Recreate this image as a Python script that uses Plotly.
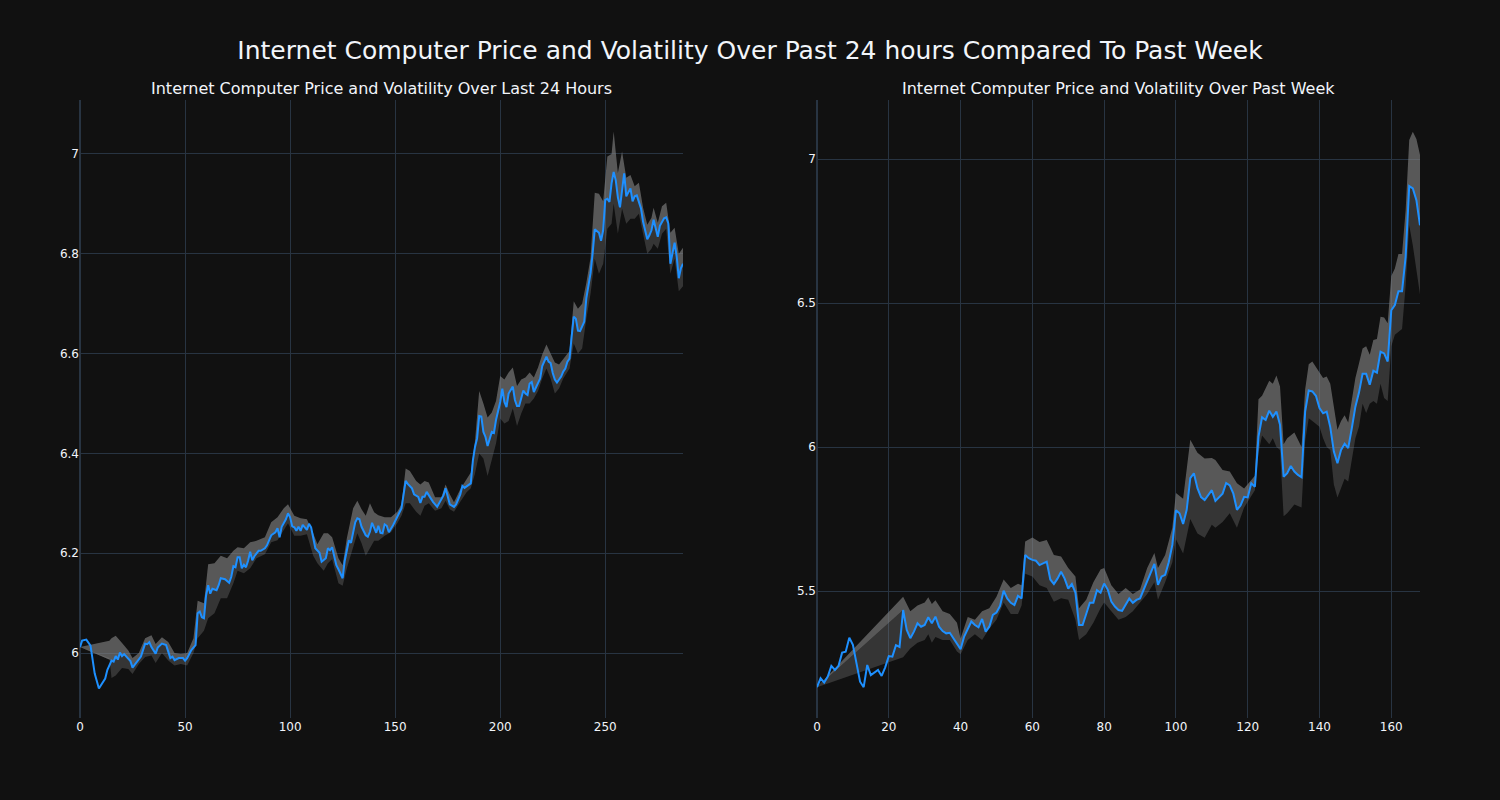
import plotly.graph_objects as go
from plotly.subplots import make_subplots

# ---------------- Last 24 hours (5-minute steps) ----------------
x_24h = [0, 1, 3, 5, 7, 9, 12, 13, 15, 16, 17, 18, 19, 20, 21, 22, 24, 25, 27, 29,
         30, 31, 32, 33, 34, 36, 37, 39, 41, 42, 43, 44, 45, 47, 49, 50, 51, 53, 54, 55,
         56, 57, 58, 59, 60, 61, 62, 63, 65, 66, 67, 69, 71, 72, 73, 74, 75, 76, 77, 78,
         79, 80, 81, 82, 83, 85, 86, 88, 89, 91, 93, 94, 95, 96, 98, 99, 100, 101, 102, 103,
         104, 105, 106, 108, 109, 110, 112, 114, 115, 117, 118, 119, 120, 121, 122, 123, 125, 126, 127, 128,
         129, 130, 131, 132, 133, 134, 136, 137, 138, 139, 140, 141, 142, 143, 144, 145, 146, 147, 149, 151,
         152, 153, 155, 156, 158, 159, 161, 162, 163, 164, 165, 166, 168, 170, 171, 173, 174, 175, 176, 178,
         179, 181, 182, 183, 185, 186, 187, 188, 189, 190, 191, 192, 193, 194, 196, 197, 198, 200, 201, 202,
         203, 204, 206, 207, 208, 209, 211, 212, 213, 214, 215, 216, 217, 219, 220, 222, 223, 224, 225, 226,
         227, 229, 230, 231, 232, 233, 234, 235, 236, 237, 238, 240, 241, 243, 244, 245, 247, 248, 249, 250,
         251, 252, 253, 254, 255, 256, 257, 258, 259, 260, 261, 262, 263, 264, 265, 267, 268, 270, 271, 272,
         273, 274, 275, 276, 278, 279, 280, 281, 282, 283, 284, 285, 286, 287]
price_24h = [6.012, 6.025, 6.027, 6.015, 5.959, 5.929, 5.949, 5.966, 5.985, 5.983, 5.994, 5.987, 6.001, 5.994, 5.998, 5.993, 5.984, 5.971, 5.983, 5.993,
             6.006, 6.019, 6.018, 6.022, 6.012, 5.999, 6.011, 6.019, 6.016, 6.003, 5.990, 5.993, 5.986, 5.990, 5.990, 5.985, 5.990, 6.006, 6.012, 6.016,
             6.080, 6.083, 6.072, 6.070, 6.115, 6.136, 6.119, 6.129, 6.126, 6.136, 6.150, 6.148, 6.141, 6.153, 6.174, 6.172, 6.192, 6.192, 6.170, 6.177,
             6.172, 6.185, 6.203, 6.186, 6.194, 6.205, 6.205, 6.210, 6.216, 6.236, 6.242, 6.250, 6.232, 6.253, 6.268, 6.280, 6.272, 6.254, 6.252, 6.245,
             6.253, 6.245, 6.257, 6.247, 6.259, 6.252, 6.210, 6.201, 6.183, 6.190, 6.210, 6.206, 6.212, 6.192, 6.176, 6.168, 6.150, 6.185, 6.205, 6.226,
             6.221, 6.245, 6.262, 6.270, 6.268, 6.253, 6.236, 6.233, 6.243, 6.261, 6.250, 6.241, 6.255, 6.241, 6.240, 6.258, 6.255, 6.242, 6.256, 6.273,
             6.283, 6.290, 6.345, 6.339, 6.330, 6.318, 6.313, 6.301, 6.313, 6.313, 6.323, 6.316, 6.303, 6.293, 6.300, 6.316, 6.330, 6.316, 6.298, 6.293,
             6.298, 6.318, 6.335, 6.331, 6.336, 6.340, 6.386, 6.413, 6.430, 6.475, 6.474, 6.443, 6.433, 6.415, 6.443, 6.441, 6.467, 6.503, 6.530, 6.503,
             6.493, 6.520, 6.534, 6.507, 6.495, 6.495, 6.526, 6.520, 6.517, 6.540, 6.543, 6.523, 6.532, 6.550, 6.575, 6.594, 6.584, 6.581, 6.561, 6.548,
             6.542, 6.554, 6.564, 6.570, 6.584, 6.590, 6.634, 6.674, 6.670, 6.646, 6.645, 6.664, 6.711, 6.761, 6.801, 6.849, 6.842, 6.826, 6.847, 6.908,
             6.910, 6.904, 6.941, 6.964, 6.947, 6.913, 6.893, 6.934, 6.961, 6.915, 6.922, 6.931, 6.905, 6.915, 6.917, 6.891, 6.864, 6.829, 6.837, 6.847,
             6.868, 6.850, 6.834, 6.856, 6.871, 6.873, 6.861, 6.780, 6.802, 6.822, 6.794, 6.751, 6.771, 6.780]

band_x_24h = [0, 14, 15, 17, 20, 23, 25, 28, 31, 34, 36, 39, 42, 45, 48, 51, 54, 56, 59, 61,
              64, 67, 70, 73, 75, 78, 81, 84, 88, 91, 94, 97, 99, 102, 105, 108, 111, 113, 116, 118,
              120, 123, 125, 127, 130, 132, 134, 136, 138, 140, 142, 145, 148, 151, 153, 155, 157, 160, 162, 164,
              166, 169, 172, 174, 176, 178, 181, 184, 186, 188, 190, 192, 194, 196, 198, 200, 202, 204, 206, 208,
              210, 212, 214, 216, 218, 220, 222, 224, 226, 228, 230, 233, 235, 237, 239, 241, 243, 245, 247, 249,
              251, 253, 254, 256, 258, 260, 262, 264, 266, 268, 270, 272, 273, 275, 277, 279, 281, 283, 285, 287]
upper_24h = [6.012, 6.025, 6.030, 6.035, 6.020, 6.005, 5.990, 6.000, 6.030, 6.036, 6.018, 6.032, 6.022, 6.000, 5.998, 6.000, 6.030, 6.105, 6.100, 6.178,
             6.180, 6.195, 6.190, 6.205, 6.212, 6.210, 6.222, 6.225, 6.232, 6.262, 6.272, 6.290, 6.298, 6.275, 6.270, 6.268, 6.240, 6.218, 6.240, 6.240,
             6.232, 6.190, 6.176, 6.230, 6.290, 6.305, 6.288, 6.275, 6.300, 6.282, 6.276, 6.272, 6.272, 6.283, 6.298, 6.370, 6.365, 6.345, 6.338, 6.345,
             6.342, 6.312, 6.312, 6.338, 6.318, 6.302, 6.328, 6.350, 6.362, 6.425, 6.525, 6.500, 6.472, 6.482, 6.505, 6.555, 6.548, 6.562, 6.572, 6.535,
             6.548, 6.552, 6.562, 6.552, 6.572, 6.598, 6.618, 6.600, 6.582, 6.578, 6.588, 6.605, 6.705, 6.690, 6.700, 6.742, 6.792, 6.922, 6.920, 6.905,
             6.995, 7.000, 7.045, 6.962, 7.005, 6.952, 6.958, 6.935, 6.942, 6.892, 6.858, 6.872, 6.892, 6.862, 6.895, 6.902, 6.842, 6.852, 6.800, 6.812]
lower_24h = [6.012, 5.990, 5.950, 5.955, 5.970, 5.968, 5.958, 5.978, 5.992, 5.995, 5.980, 6.000, 5.985, 5.975, 5.978, 5.975, 6.000, 6.030, 6.045, 6.070,
             6.080, 6.110, 6.110, 6.140, 6.165, 6.160, 6.170, 6.190, 6.198, 6.222, 6.226, 6.245, 6.260, 6.235, 6.235, 6.238, 6.195, 6.180, 6.165, 6.180,
             6.188, 6.140, 6.135, 6.170, 6.215, 6.240, 6.220, 6.195, 6.210, 6.225, 6.225, 6.235, 6.242, 6.260, 6.275, 6.300, 6.300, 6.283, 6.275, 6.295,
             6.300, 6.285, 6.290, 6.305, 6.288, 6.283, 6.303, 6.322, 6.330, 6.360, 6.400, 6.390, 6.355, 6.390, 6.420, 6.470, 6.460, 6.465, 6.490, 6.455,
             6.480, 6.500, 6.500, 6.510, 6.525, 6.550, 6.570, 6.550, 6.520, 6.530, 6.550, 6.570, 6.620, 6.600, 6.610, 6.670, 6.720, 6.790, 6.760, 6.780,
             6.850, 6.860, 6.900, 6.840, 6.890, 6.860, 6.870, 6.870, 6.880, 6.840, 6.800, 6.810, 6.820, 6.810, 6.840, 6.850, 6.760, 6.790, 6.725, 6.735]

# ---------------- Past week (hourly steps) ----------------
x_week = [0, 1, 2, 3, 4, 5, 6, 7, 8, 9, 10, 11, 12, 13, 14, 15, 17, 18, 19, 20,
          21, 22, 23, 24, 25, 26, 27, 28, 29, 30, 31, 32, 33, 34, 35, 36, 37, 38, 40, 41,
          43, 44, 45, 46, 47, 48, 49, 50, 51, 52, 53, 54, 55, 56, 57, 58, 59, 60, 61, 62,
          64, 65, 66, 67, 68, 69, 70, 71, 72, 73, 74, 75, 76, 77, 78, 79, 80, 81, 82, 83,
          84, 85, 86, 87, 88, 89, 90, 91, 92, 93, 94, 95, 96, 97, 98, 99, 100, 101, 102, 103,
          104, 105, 106, 107, 108, 110, 111, 113, 114, 115, 116, 117, 118, 119, 120, 121, 122, 123, 124, 125,
          126, 127, 128, 129, 130, 131, 132, 133, 134, 135, 136, 137, 138, 139, 140, 141, 142, 143, 144, 145,
          146, 147, 148, 149, 150, 151, 152, 153, 154, 155, 156, 157, 158, 159, 160, 161, 162, 163, 164, 165,
          166, 167, 168]
price_week = [5.166, 5.197, 5.182, 5.203, 5.240, 5.226, 5.240, 5.286, 5.289, 5.338, 5.313, 5.249, 5.185, 5.166, 5.243, 5.208, 5.226, 5.205, 5.235, 5.274,
              5.272, 5.312, 5.306, 5.434, 5.365, 5.336, 5.359, 5.388, 5.376, 5.382, 5.409, 5.388, 5.411, 5.376, 5.361, 5.353, 5.355, 5.336, 5.298, 5.342,
              5.394, 5.382, 5.374, 5.403, 5.359, 5.376, 5.417, 5.425, 5.448, 5.501, 5.474, 5.459, 5.451, 5.483, 5.474, 5.625, 5.614, 5.608, 5.605, 5.590,
              5.602, 5.540, 5.524, 5.543, 5.567, 5.543, 5.508, 5.524, 5.494, 5.382, 5.382, 5.420, 5.459, 5.459, 5.503, 5.494, 5.526, 5.505, 5.463, 5.446,
              5.434, 5.431, 5.451, 5.474, 5.459, 5.469, 5.474, 5.503, 5.536, 5.559, 5.594, 5.521, 5.550, 5.556, 5.600, 5.660, 5.780, 5.770, 5.733, 5.782,
              5.892, 5.909, 5.857, 5.826, 5.816, 5.850, 5.813, 5.838, 5.875, 5.867, 5.838, 5.782, 5.797, 5.827, 5.825, 5.874, 5.862, 6.036, 6.103, 6.094,
              6.126, 6.105, 6.123, 6.077, 5.897, 5.909, 5.934, 5.915, 5.903, 5.895, 6.123, 6.196, 6.193, 6.178, 6.135, 6.117, 6.123, 6.069, 5.984, 5.944,
              5.990, 6.011, 5.996, 6.065, 6.140, 6.189, 6.254, 6.254, 6.216, 6.265, 6.258, 6.331, 6.325, 6.297, 6.475, 6.493, 6.541, 6.541, 6.660, 6.906,
              6.898, 6.857, 6.770]

band_x_week = [0, 24, 26, 28, 30, 31, 32, 33, 35, 37, 39, 40, 42, 44, 46, 48, 50, 52, 54, 56,
               57, 58, 60, 62, 64, 66, 68, 70, 72, 73, 75, 77, 79, 80, 82, 84, 86, 88, 90, 92,
               94, 95, 97, 99, 100, 102, 104, 106, 108, 110, 111, 113, 115, 117, 119, 121, 122, 123, 124, 126,
               127, 128, 129, 130, 131, 133, 135, 136, 137, 138, 140, 141, 142, 143, 144, 145, 146, 147, 148, 150,
               151, 152, 153, 154, 155, 156, 157, 158, 159, 160, 161, 162, 163, 164, 165, 166, 167, 168]
upper_week = [5.166, 5.480, 5.430, 5.450, 5.460, 5.478, 5.455, 5.468, 5.430, 5.420, 5.390, 5.335, 5.410, 5.400, 5.430, 5.440, 5.480, 5.540, 5.510, 5.525,
              5.520, 5.672, 5.686, 5.670, 5.677, 5.625, 5.620, 5.580, 5.550, 5.440, 5.470, 5.530, 5.575, 5.580, 5.520, 5.490, 5.510, 5.490, 5.505, 5.580,
              5.632, 5.580, 5.625, 5.720, 5.840, 5.820, 6.025, 5.980, 5.960, 5.962, 5.955, 5.920, 5.915, 5.874, 5.856, 5.885, 5.900, 6.166, 6.178, 6.230,
              6.220, 6.248, 6.210, 6.010, 6.030, 6.050, 6.000, 6.200, 6.287, 6.297, 6.260, 6.240, 6.245, 6.220, 6.140, 6.060, 6.090, 6.110, 6.085, 6.240,
              6.290, 6.342, 6.350, 6.320, 6.372, 6.375, 6.452, 6.450, 6.430, 6.594, 6.620, 6.670, 6.670, 6.822, 7.066, 7.095, 7.070, 7.014]
lower_week = [5.166, 5.270, 5.300, 5.320, 5.330, 5.350, 5.320, 5.340, 5.330, 5.330, 5.290, 5.280, 5.330, 5.350, 5.330, 5.370, 5.400, 5.460, 5.420, 5.420,
              5.450, 5.560, 5.550, 5.520, 5.510, 5.463, 5.475, 5.470, 5.400, 5.330, 5.350, 5.390, 5.440, 5.460, 5.430, 5.400, 5.410, 5.430, 5.460, 5.490,
              5.530, 5.470, 5.530, 5.600, 5.680, 5.630, 5.750, 5.700, 5.685, 5.730, 5.720, 5.740, 5.770, 5.720, 5.790, 5.830, 5.850, 5.980, 6.040, 6.010,
              6.030, 6.000, 5.990, 5.760, 5.770, 5.800, 5.790, 6.020, 6.100, 6.090, 6.070, 6.030, 6.000, 5.990, 5.870, 5.825, 5.860, 5.890, 5.880, 6.030,
              6.070, 6.150, 6.118, 6.150, 6.160, 6.150, 6.220, 6.170, 6.160, 6.350, 6.390, 6.400, 6.410, 6.560, 6.770, 6.700, 6.620, 6.530]

main_title = "Internet Computer Price and Volatility Over Past 24 hours Compared To Past Week"
sub_titles = ["Internet Computer Price and Volatility Over Last 24 Hours",
              "Internet Computer Price and Volatility Over Past Week"]

LIGHT_FILL = "rgba(128,128,128,0.65)"
DARK_FILL = "rgba(128,128,128,0.33)"
LINE_BLUE = "#1e90ff"
FONT = "DejaVu Sans"

fig = make_subplots(rows=1, cols=2, subplot_titles=sub_titles, horizontal_spacing=0.1)


def add_panel(col, xs, ys, bx, up, lo):
    start = bx[1]
    mid_x = [x for x in xs if x >= start]
    mid_y = [y for x, y in zip(xs, ys) if x >= start]
    fig.add_trace(go.Scatter(x=bx, y=up, mode="lines", line=dict(width=0),
                             hoverinfo="skip", showlegend=False), row=1, col=col)
    fig.add_trace(go.Scatter(x=mid_x, y=mid_y, mode="lines", line=dict(width=0),
                             fill="tonexty", fillcolor=LIGHT_FILL,
                             hoverinfo="skip", showlegend=False), row=1, col=col)
    fig.add_trace(go.Scatter(x=bx, y=lo, mode="lines", line=dict(width=0),
                             fill="tonexty", fillcolor=DARK_FILL,
                             hoverinfo="skip", showlegend=False), row=1, col=col)
    fig.add_trace(go.Scatter(x=xs, y=ys, mode="lines",
                             line=dict(color=LINE_BLUE, width=2),
                             showlegend=False), row=1, col=col)


add_panel(1, x_24h, price_24h, band_x_24h, upper_24h, lower_24h)
add_panel(2, x_week, price_week, band_x_week, upper_week, lower_week)

fig.update_layout(
    template="plotly_dark",
    width=1500, height=800,
    font=dict(family=FONT),
    title=dict(text=main_title, x=0.5, xanchor="center", y=0.9375, yanchor="middle",
               font=dict(family=FONT, size=25)),
    showlegend=False,
    margin=dict(l=80, r=80, t=100, b=82),
)
for ann in fig.layout.annotations:
    ann.font = dict(family=FONT, size=16)
fig.update_xaxes(range=[0, 287], row=1, col=1)
fig.update_xaxes(range=[0, 168], row=1, col=2)
fig.update_yaxes(range=[5.87, 7.108], row=1, col=1)
fig.update_yaxes(range=[5.059, 7.205], row=1, col=2)

fig.write_html("out.html", config={"displayModeBar": False},
               post_script="document.body.style.margin='0';document.body.style.background='#111111';")
